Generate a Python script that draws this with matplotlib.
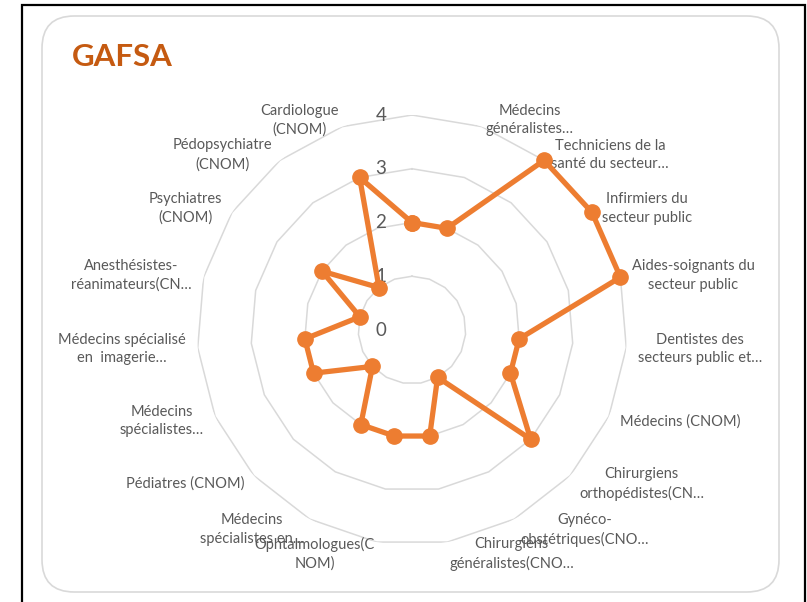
import numpy as np
import matplotlib.pyplot as plt
from matplotlib.patches import FancyBboxPatch, Rectangle

plt.rcParams['font.family'] = ['Lato', 'DejaVu Sans']

# ── Data ──────────────────────────────────────────────────────────────────────
TITLE = "GAFSA"
CATEGORIES = [
    "",
    "Médecins\ngénéralistes…",
    "Techniciens de la\nsanté du secteur…",
    "Infirmiers du\nsecteur public",
    "Aides-soignants du\nsecteur public",
    "Dentistes des\nsecteurs public et…",
    "Médecins (CNOM)",
    "Chirurgiens\northopédistes(CN…",
    "Gynéco-\nobstétriques(CNO…",
    "Chirurgiens\ngénéralistes(CNO…",
    "Ophtalmologues(C\nNOM)",
    "Médecins\nspécialistes en…",
    "Pédiatres (CNOM)",
    "Médecins\nspécialistes…",
    "Médecins spécialisé\nen  imagerie…",
    "Anesthésistes-\nréanimateurs(CN…",
    "Psychiatres\n(CNOM)",
    "Pédopsychiatre\n(CNOM)",
    "Cardiologue\n(CNOM)",
]
VALUES = [2, 2, 4, 4, 4, 2, 2, 3, 1, 2, 2, 2, 1, 2, 2, 1, 2, 1, 3]
RING_LEVELS = [0, 1, 2, 3, 4]

ORANGE = "#ED7D31"
TITLE_COLOR = "#C55A11"
GRID = "#D9D9D9"
TEXT = "#595959"

W, H = 807, 602
fig = plt.figure(figsize=(W / 100, H / 100), dpi=100)

# outer black frame + rounded chart area (drawn behind the axes)
fig.add_artist(Rectangle((22 / W, -10 / H), (805 - 22) / W, (H + 5) / H,
                         transform=fig.transFigure, fill=False,
                         edgecolor="black", linewidth=1.6, zorder=-2))
fig.add_artist(FancyBboxPatch((42 / W, 10 / H), (779 - 42) / W, (592 - 16) / H,
                              boxstyle="round,pad=0,rounding_size=0.04",
                              transform=fig.transFigure, facecolor="white",
                              edgecolor=GRID, linewidth=1.2,
                              mutation_aspect=W / H, zorder=-1))

fig.text(72 / W, 1 - 66 / H, TITLE, color=TITLE_COLOR, fontsize=22.5,
         fontweight="bold", va="baseline")

# polar axes: centre (412, 330) px, radius 215 px
cx, cy, R = 412, 330, 215
ax = fig.add_axes([(cx - R) / W, (H - cy - R) / H, 2 * R / W, 2 * R / H],
                  projection="polar")
ax.set_zorder(2)
ax.set_theta_zero_location("N")
ax.set_theta_direction(-1)
ax.set_ylim(0, max(RING_LEVELS))
ax.set_facecolor("none")
ax.spines["polar"].set_visible(False)
ax.grid(False)
ax.set_xticks([])
ax.set_yticks([])

n = len(CATEGORIES)
theta = np.linspace(0, 2 * np.pi, n, endpoint=False)
theta_closed = np.append(theta, theta[0])

# polygonal rings
for lvl in RING_LEVELS[1:]:
    ax.plot(theta_closed, [lvl] * (n + 1), color=GRID, linewidth=1.1, zorder=1)

# ring value labels
for lvl in RING_LEVELS:
    ax.annotate(str(lvl), xy=(0, lvl), xytext=(-31, 0),
                textcoords="offset pixels", ha="center", va="center",
                fontsize=13.5, color=TEXT, zorder=2)

# category labels just outside the outer ring
outer = max(RING_LEVELS)
for t, lab in zip(theta, CATEGORIES):
    s, c = np.sin(t), np.cos(t)
    ha = "left" if s > 0.05 else ("right" if s < -0.05 else "center")
    dy = 7 * c if c > 0 else 12 * c
    ax.annotate(lab, xy=(t, outer), xytext=(12 * s, dy),
                textcoords="offset pixels", ha=ha, va="center",
                multialignment="center", fontsize=10.5, color=TEXT,
                linespacing=1.4, annotation_clip=False)

vals_closed = VALUES + VALUES[:1]
ax.plot(theta_closed, vals_closed, color=ORANGE, linewidth=3.8,
        marker="o", markersize=11, zorder=3, clip_on=False)

fig.savefig("out.png", dpi=100)
